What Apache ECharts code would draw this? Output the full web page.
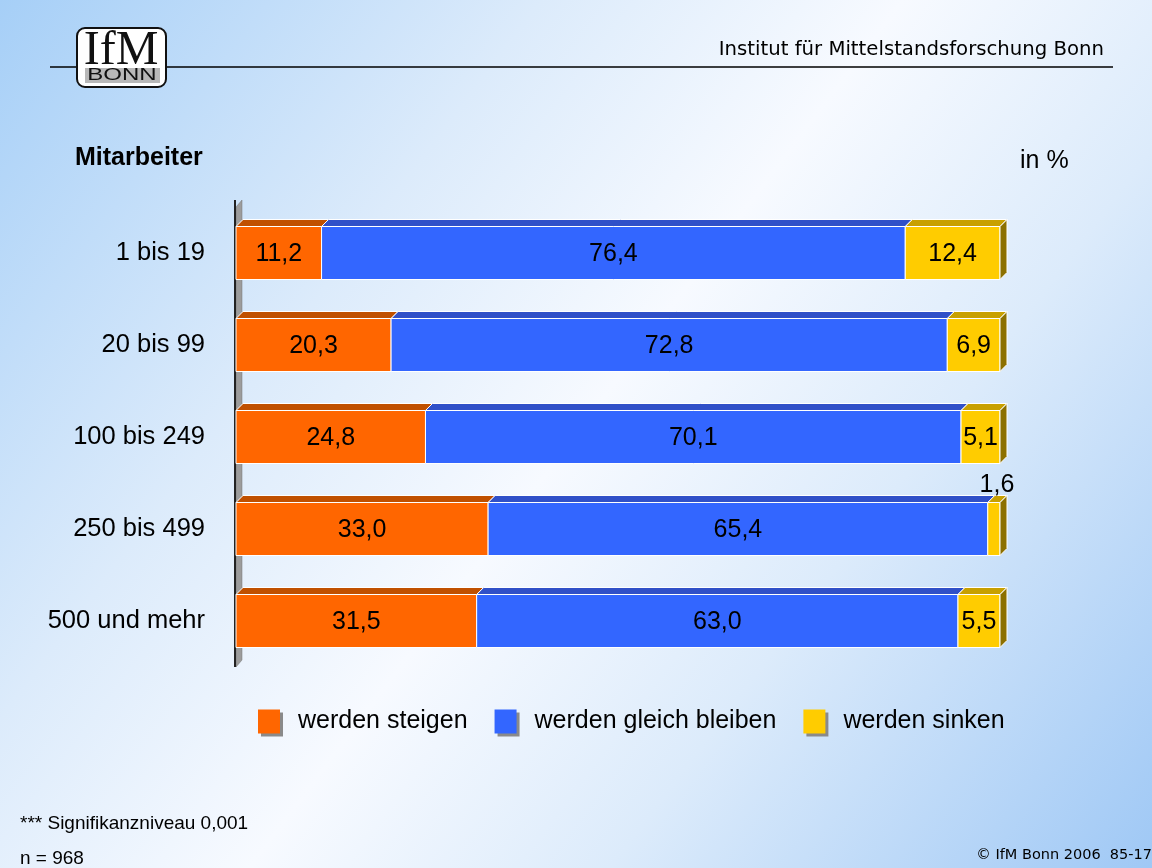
<!DOCTYPE html>
<html>
<head>
<meta charset="utf-8">
<style>
    html, body {
        margin: 0;
        padding: 0;
    }

    #main {
        width: 1152px;
        height: 868px;
    }
</style>
</head>
<body>
<div id="main"></div>
<script src="https://cdn.jsdelivr.net/npm/echarts@6/dist/echarts.min.js"></script>
<script>
    // Mitarbeiter-Größenklassen und Anteile in %
    var categories = ['1 bis 19', '20 bis 99', '100 bis 249', '250 bis 499', '500 und mehr'];
    var steigen = [11.2, 20.3, 24.8, 33.0, 31.5];
    var gleich = [76.4, 72.8, 70.1, 65.4, 63.0];
    var sinken = [12.4, 6.9, 5.1, 1.6, 5.5];
    var seriesNames = ['werden steigen', 'werden gleich bleiben', 'werden sinken'];

    // Farben der 3D-Balken (Front, Deckel, Seite)
    var faces = [
        {front: '#FF6600', top: '#C05000', side: '#8A3A00'},
        {front: '#3366FF', top: '#3050C8', side: '#203A99'},
        {front: '#FFCC00', top: '#C8A000', side: '#8C7000'}
    ];

    var FONT = '"Liberation Sans", Arial, sans-serif';
    var TAHOMA = '"DejaVu Sans", Verdana, sans-serif';

    function fmt(v) {
        return v.toFixed(1).replace('.', ',');
    }

    // gestapelte Daten: [Kategorie, Start, Ende, Wert]
    function buildStack(k) {
        var lists = [steigen, gleich, sinken];
        return categories.map(function (c, i) {
            var start = 0;
            for (var j = 0; j < k; j++) start += lists[j][i];
            return [i, start, start + lists[k][i], lists[k][i]];
        });
    }

    function renderItem(params, api) {
        var idx = api.value(0);
        var p1 = api.coord([api.value(1), idx]);
        var p2 = api.coord([api.value(2), idx]);
        var val = api.value(3);
        var s = params.seriesIndex;
        var h = 53, d = 7;
        var x1 = p1[0], x2 = p2[0], y0 = p1[1] - h / 2;
        var f = faces[s];
        var children = [
            {
                type: 'polygon',
                shape: {points: [[x1, y0], [x2, y0], [x2 + d, y0 - d], [x1 + d, y0 - d]]},
                style: {fill: f.top, stroke: '#fff', lineWidth: 1}
            },
            {
                type: 'rect',
                shape: {x: x1, y: y0, width: x2 - x1, height: h},
                style: {fill: f.front, stroke: '#fff', lineWidth: 1}
            }
        ];
        if (s === 2) {
            children.push({
                type: 'polygon',
                shape: {points: [[x2, y0], [x2 + d, y0 - d], [x2 + d, y0 + h - d], [x2, y0 + h]]},
                style: {fill: f.side, stroke: '#fff', lineWidth: 1}
            });
        }
        if (val < 3) {
            // zu schmal: Beschriftung über dem Balken
            children.push({
                type: 'text',
                style: {
                    text: fmt(val), x: x2 - 3, y: y0 - 5, align: 'center', verticalAlign: 'bottom',
                    fontSize: 25, fontFamily: FONT, fill: '#000'
                }
            });
        } else {
            children.push({
                type: 'text',
                style: {
                    text: fmt(val), x: (x1 + x2) / 2, y: y0 + h / 2 + 1, align: 'center', verticalAlign: 'middle',
                    fontSize: 25, fontFamily: FONT, fill: '#000'
                }
            });
        }
        return {type: 'group', children: children};
    }

    var myChart = echarts.init(document.getElementById('main'), null, {renderer: 'canvas'});

    var option = {
        animation: false,
        backgroundColor: {
            type: 'linear', x: 0, y: 0, x2: 1, y2: 1,
            colorStops: [
                {offset: 0, color: '#a6cff7'},
                {offset: 0.3, color: '#dcebfb'},
                {offset: 0.5, color: '#f7faff'},
                {offset: 0.7, color: '#dcebfb'},
                {offset: 1, color: '#9fc8f5'}
            ]
        },
        grid: {left: 236, right: 152, top: 207, height: 460},
        xAxis: {
            type: 'value', min: 0, max: 100,
            show: false
        },
        yAxis: {
            type: 'category',
            data: categories,
            inverse: true,
            axisLine: {show: false},
            axisTick: {show: false},
            axisLabel: {fontSize: 25.5, fontFamily: FONT, color: '#000', margin: 31}
        },
        legend: {
            data: seriesNames,
            left: 258,
            top: 709,
            padding: 0,
            icon: 'rect',
            itemWidth: 22,
            itemHeight: 24,
            itemGap: 27,
            itemStyle: {shadowColor: '#8a8a8a', shadowOffsetX: 3, shadowOffsetY: 3, shadowBlur: 0},
            textStyle: {fontSize: 25, fontFamily: FONT, color: '#000', padding: [4, 0, 0, 13]}
        },
        graphic: [
            // Kopfzeile
            {type: 'line', shape: {x1: 50, y1: 67, x2: 1113, y2: 67}, style: {stroke: '#000', lineWidth: 1.5}, z: 1},
            {
                type: 'text', right: 48, top: 40,
                style: {text: 'Institut für Mittelstandsforschung Bonn', fontSize: 19.7, fontFamily: TAHOMA, fill: '#000'}
            },
            // Logo
            {
                type: 'rect', shape: {x: 77, y: 28, width: 89, height: 59, r: 8},
                style: {fill: '#fff', stroke: '#111', lineWidth: 2}, z: 5
            },
            {
                type: 'text', z: 6,
                style: {
                    text: 'IfM', x: 121, y: 51, align: 'center', verticalAlign: 'middle',
                    fontSize: 48, fontFamily: '"Liberation Serif", "DejaVu Serif", serif', fill: '#111'
                }
            },
            {
                type: 'rect', shape: {x: 85, y: 68, width: 75, height: 15},
                style: {fill: '#b8b8b8'}, z: 6
            },
            {
                type: 'text', z: 7, x: 122, y: 76, scaleX: 1.5,
                style: {
                    text: 'BONN', x: 0, y: 0, align: 'center', verticalAlign: 'middle',
                    fontSize: 16, fontFamily: FONT, fill: '#111'
                }
            },
            // Titel
            {
                type: 'text', left: 75, top: 146,
                style: {text: 'Mitarbeiter', fontSize: 25, fontWeight: 'bold', fontFamily: FONT, fill: '#000'}
            },
            {
                type: 'text', left: 1020, top: 149,
                style: {text: 'in %', fontSize: 25, fontFamily: FONT, fill: '#000'}
            },
            // Achsenwand
            {
                type: 'polygon', z: 1,
                shape: {points: [[236, 207], [242, 200], [242, 660], [236, 667]]},
                style: {fill: '#9c9c9c', stroke: '#777', lineWidth: 0.5}
            },
            {type: 'line', shape: {x1: 235, y1: 200, x2: 235, y2: 667}, style: {stroke: '#222', lineWidth: 2}, z: 2},
            // Fußzeile
            {
                type: 'text', left: 20, top: 814,
                style: {text: '*** Signifikanzniveau 0,001', fontSize: 19, fontFamily: FONT, fill: '#000'}
            },
            {
                type: 'text', left: 20, top: 849,
                style: {text: 'n = 968', fontSize: 19, fontFamily: FONT, fill: '#000'}
            },
            {
                type: 'text', right: 0, top: 848,
                style: {text: '© IfM Bonn 2006  85-17', fontSize: 14.5, fontFamily: TAHOMA, fill: '#000'}
            }
        ],
        series: [0, 1, 2].map(function (k) {
            return {
                name: seriesNames[k],
                type: 'custom',
                renderItem: renderItem,
                itemStyle: {color: faces[k].front},
                encode: {x: [1, 2], y: 0},
                data: buildStack(k),
                z: 3
            };
        })
    };

    myChart.setOption(option);
</script>
</body>
</html>
